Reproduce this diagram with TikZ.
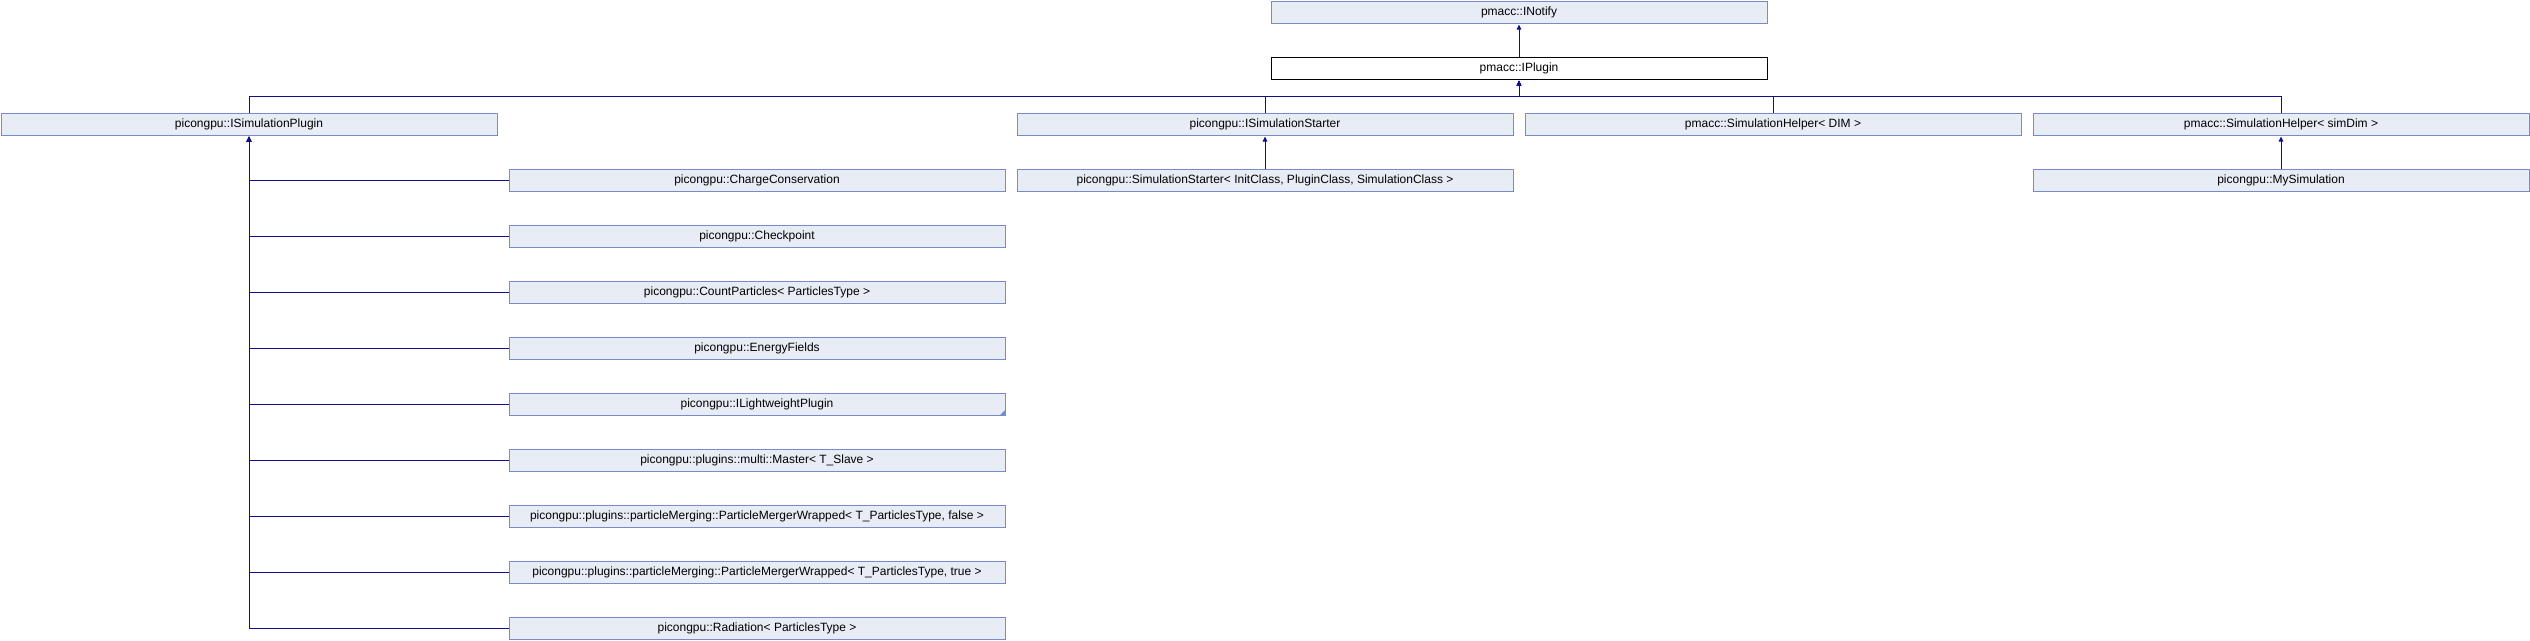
\documentclass[tikz,border=0pt]{standalone}
\usepackage{fontspec}
\setmainfont{Liberation Sans}
\usetikzlibrary{arrows.meta}

\definecolor{clsfill}{RGB}{232,236,245}
\definecolor{clsline}{RGB}{118,140,200}
\definecolor{edgeblue}{RGB}{16,16,140}

\tikzset{
  cls/.style={draw=clsline,fill=clsfill,line width=1pt,minimum width=496pt,
    minimum height=22pt,inner sep=0pt,font=\fontsize{12}{14}\selectfont},
  focus/.style={cls,draw=black,fill=white},
  inh/.style={edgeblue,line width=1pt,-{Triangle[length=5pt,width=4.5pt]},shorten >=1pt},
}

\begin{document}
\begin{tikzpicture}[x=1pt,y=-1pt]
  \useasboundingbox (0,0) rectangle (2530,640);

  \node[cls] (INotify) at (1519,12) {pmacc::INotify};
  \node[focus] (IPlugin) at (1519,68) {pmacc::IPlugin};

  \node[cls] (ISimPlugin) at (249,124) {picongpu::ISimulationPlugin};
  \node[cls] (ISimStarter) at (1265,124) {picongpu::ISimulationStarter};
  \node[cls] (SimHelperDim) at (1773,124) {pmacc::SimulationHelper< DIM >};
  \node[cls] (SimHelperSim) at (2281,124) {pmacc::SimulationHelper< simDim >};

  \node[cls] (SimStarter) at (1265,180) {picongpu::SimulationStarter< InitClass, PluginClass, SimulationClass >};
  \node[cls] (MySimulation) at (2281,180) {picongpu::MySimulation};

  \node[cls] (ChargeConservation) at (757,180) {picongpu::ChargeConservation};
  \node[cls] (Checkpoint) at (757,236) {picongpu::Checkpoint};
  \node[cls] (CountParticles) at (757,292) {picongpu::CountParticles< ParticlesType >};
  \node[cls] (EnergyFields) at (757,348) {picongpu::EnergyFields};
  \node[cls] (LightweightPlugin) at (757,404) {picongpu::ILightweightPlugin};
  \node[cls] (MultiMaster) at (757,460) {picongpu::plugins::multi::Master< T\_Slave >};
  \node[cls] (MergerFalse) at (757,516) {picongpu::plugins::particleMerging::ParticleMergerWrapped< T\_ParticlesType, false >};
  \node[cls] (MergerTrue) at (757,572) {picongpu::plugins::particleMerging::ParticleMergerWrapped< T\_ParticlesType, true >};
  \node[cls] (Radiation) at (757,628) {picongpu::Radiation< ParticlesType >};

  % folded corner: more classes below
  \fill[clsline] (LightweightPlugin.south east) -- ++(-6,0) -- ++(6,-6) -- cycle;

  \coordinate (Bus) at (1519,96);

  \draw[inh] (IPlugin) -- (INotify);

  \draw[inh] (ISimPlugin.north) |- (Bus) -- (IPlugin.south);
  \draw[inh] (ISimStarter.north) |- (Bus) -- (IPlugin.south);
  \draw[inh] (SimHelperDim.north) |- (Bus) -- (IPlugin.south);
  \draw[inh] (SimHelperSim.north) |- (Bus) -- (IPlugin.south);

  \draw[inh] (SimStarter) -- (ISimStarter);
  \draw[inh] (MySimulation) -- (SimHelperSim);

  \draw[inh] (ChargeConservation.west) -| (ISimPlugin.south);
  \draw[inh] (Checkpoint.west) -| (ISimPlugin.south);
  \draw[inh] (CountParticles.west) -| (ISimPlugin.south);
  \draw[inh] (EnergyFields.west) -| (ISimPlugin.south);
  \draw[inh] (LightweightPlugin.west) -| (ISimPlugin.south);
  \draw[inh] (MultiMaster.west) -| (ISimPlugin.south);
  \draw[inh] (MergerFalse.west) -| (ISimPlugin.south);
  \draw[inh] (MergerTrue.west) -| (ISimPlugin.south);
  \draw[inh] (Radiation.west) -| (ISimPlugin.south);
\end{tikzpicture}
\end{document}
